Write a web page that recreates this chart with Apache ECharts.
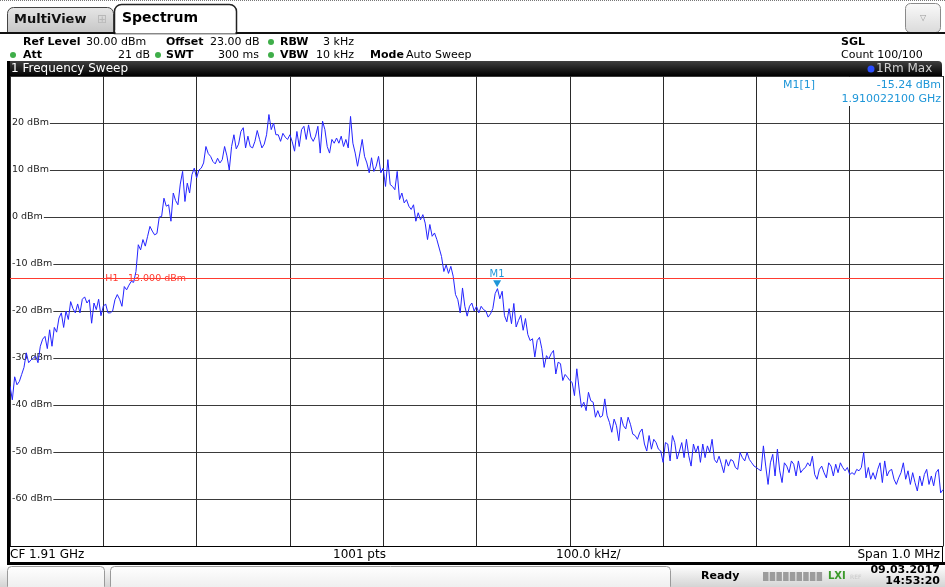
<!DOCTYPE html>
<html>
<head>
<meta charset="utf-8">
<script src="https://cdn.jsdelivr.net/npm/echarts@6/dist/echarts.min.js"></script>
<style>
  html, body { margin: 0; padding: 0; background: #fff; }
  #chart { width: 945px; height: 587px; }
</style>
</head>
<body>
<div id="chart"></div>
<script>
// frequency offset from CF (kHz)
const spanKHz = [-500, 500];

// trace 1 (max hold), dBm at 401 evenly spaced sweep points
const traceDbm = [
  -36, -38.9, -34, -35.7, -35, -33.5, -32, -28.9, -31, -30.4,
  -30, -29.6, -31, -27.5, -26, -25.4, -28, -24, -27.5, -23.5,
  -24.5, -21.5, -20.4, -23.5, -20, -21.8, -18, -19.5, -20.4, -18.5,
  -20.4, -17.5, -17, -18.3, -17.6, -22.6, -18.3, -19.7, -17.5, -21,
  -19, -18.5, -20.4, -20.4, -20, -17.6, -16.5, -17.5, -19, -14.8,
  -15.5, -14.5, -13.7, -13.9, -11.6, -5.9, -7, -4.8, -6.2, -4.1,
  -2, -3, -3.8, -3.5, 0, 0.1, 4, 2.3, 2.6, -0.9,
  5.1, 3.5, 2.6, 7, 9.7, 3.3, 7.2, 5.1, 9, 10.4,
  8.3, 10, 10.4, 11.5, 15, 13.5, 12.9, 11.8, 11.3, 12.5,
  11.5, 12.2, 15, 13, 10, 15, 17.5, 14.5, 15.5, 18.2,
  19, 14.7, 17.2, 15, 14.7, 16.1, 18.4, 16.5, 14.7, 15.5,
  17.5, 21.8, 18.6, 20, 17.5, 17.5, 16.1, 17.8, 17, 16.5,
  17.5, 16, 14, 18.2, 15, 18.6, 19.3, 16.5, 19.6, 17,
  16.1, 17.2, 19.3, 13.6, 20.4, 18.6, 15, 13.6, 16.5, 15.7,
  16.8, 15.7, 17.2, 15, 16.5, 14.7, 21.4, 15.7, 13.6, 10.8,
  13.6, 16.5, 12.9, 11.5, 9.4, 12.6, 9.7, 10.8, 12.9, 9.4,
  10.4, 6.5, 12.2, 6.9, 6.5, 5.8, 9.7, 3.7, 5.1, 3,
  3.7, 2.3, 1.6, 2.6, -0.9, 0.9, -0.6, 0.5, -1.3, -4.8,
  -1.6, -4.1, -3.4, -4.8, -6.6, -8.4, -11.6, -10.2, -12, -10.5,
  -12.6, -16.5, -17.6, -20.4, -15.1, -19, -21.1, -19, -18.3, -20,
  -19, -20.4, -19, -19.7, -20, -21.3, -20.6, -19.5, -16.3, -15.24,
  -17.4, -15.8, -21, -22.3, -19.5, -22.7, -18.4, -23.4, -22, -20.9,
  -24.1, -21.6, -25, -26.3, -25.9, -29.8, -26.3, -25.6, -28, -32,
  -29.5, -30.2, -29.1, -28.4, -33.4, -30.9, -31.2, -34.8, -33.5, -34.1,
  -34.8, -35.2, -38, -32.3, -36.6, -40.5, -39.4, -41.2, -37.3, -39.1,
  -39.4, -42.6, -41.2, -42.6, -42.3, -38.7, -42.3, -43.7, -45.8, -43,
  -44.4, -47.6, -42.6, -44.4, -45.1, -42.6, -44.1, -46.2, -46.5, -47.3,
  -45.8, -45.1, -48.3, -49.8, -46.5, -49.4, -47.3, -48, -49.4, -49.8,
  -52.2, -48, -48.3, -51.9, -46.5, -48, -51.5, -49.8, -48, -51.2,
  -47.3, -50.8, -53, -48.3, -50.1, -48.7, -52.2, -48.3, -51.2, -48.7,
  -50.1, -47.3, -51.6, -52.3, -50.9, -52.6, -54.4, -51.6, -53, -51.6,
  -51.9, -53.3, -53.7, -50.1, -51.2, -51.9, -50.1, -51.6, -52.3, -53,
  -53.3, -53.7, -54, -48.7, -53, -56.9, -52.3, -50.5, -55.1, -49.4,
  -54, -56.5, -52.3, -53, -54.4, -51.9, -52.6, -55.1, -51.9, -54.4,
  -53.7, -53.3, -52.3, -53, -50.9, -54.8, -55.8, -53.7, -53, -54.4,
  -55.5, -52.3, -53, -55.1, -52.6, -54.4, -52.3, -53.3, -54, -53.3,
  -54.8, -54.4, -54.8, -53.7, -54, -53.3, -50.1, -55.5, -53.3, -55.8,
  -54.4, -55.8, -53.7, -52.3, -56.5, -51.9, -55.1, -54, -53.7, -55.8,
  -56.9, -55.5, -54.4, -52.3, -55.8, -54, -56.9, -54.4, -56.5, -58.3,
  -55.1, -57.2, -54.8, -53.7, -56.9, -55.1, -57.2, -54.4, -53.7, -58.7,
  -58
];

const levelRange = [-70, 30];
const levelStep = 10;
const h1Level = -13;
const m1Point = [22.1, -15.24];

const headerRow1 = [
  ['Ref Level', true, 23, 'left'], ['30.00 dBm', false, 86, 'left'], ['Offset', true, 166, 'left'],
  ['23.00 dB', false, 210, 'left'], ['RBW', true, 280, 'left'], ['3 kHz', false, 354, 'right']
];
const headerRow2 = [
  ['Att', true, 23, 'left'], ['21 dB', false, 150, 'right'], ['SWT', true, 166, 'left'],
  ['300 ms', false, 259, 'right'], ['VBW', true, 280, 'left'], ['10 kHz', false, 354, 'right'],
  ['Mode', true, 370, 'left'], ['Auto Sweep', false, 406, 'left']
];
const statusItems = [['CF 1.91 GHz', 10, 'left'], ['1001 pts', 333, 'left'], ['100.0 kHz/', 556, 'left'], ['Span 1.0 MHz', 940, 'right']];

const FONT = '"DejaVu Sans", Verdana, sans-serif';
const MARK = '#1e96d8';

const chart = echarts.init(document.getElementById('chart'));

const stepKHz = (spanKHz[1] - spanKHz[0]) / (traceDbm.length - 1);
const traceData = traceDbm.map((v, i) => [spanKHz[0] + i * stepKHz, v]);

chart.setOption({
  animation: false,
  backgroundColor: '#fff',
  grid: { left: 10, top: 76, width: 933, height: 470 },
  xAxis: {
    type: 'value', min: spanKHz[0], max: spanKHz[1], interval: 100,
    axisLabel: { show: false }, axisTick: { show: false },
    axisLine: { show: true, onZero: false, lineStyle: { color: '#000', width: 1 } },
    splitLine: { show: true, lineStyle: { color: '#2a2a2a', width: 1 } }
  },
  yAxis: [
    {
      type: 'value', min: levelRange[0], max: levelRange[1], interval: levelStep,
      axisLabel: { show: false }, axisTick: { show: false }, axisLine: { show: false },
      splitLine: { show: true, lineStyle: { color: '#3a3a3a', width: 1 } }
    },
    {
      type: 'value', min: levelRange[0], max: levelRange[1], interval: levelStep,
      position: 'left', z: 1,
      axisTick: { show: false }, axisLine: { show: false }, splitLine: { show: false },
      axisLabel: {
        inside: true, margin: 1, formatter: '{value} dBm',
        fontFamily: FONT, fontSize: 9.5, color: '#222',
        backgroundColor: '#fff', padding: [1, 1, 0, 1],
        showMinLabel: false, showMaxLabel: false
      }
    }
  ],
  series: [
    {
      type: 'line', z: 1, data: [], silent: true,
      markLine: {
        silent: true, symbol: 'none', animation: false,
        lineStyle: { color: '#ff3b30', width: 1, type: 'solid' },
        label: { show: false },
        data: [{ yAxis: h1Level }]
      }
    },
    {
      name: 'Trace 1', type: 'line', z: 3, data: traceData,
      showSymbol: false, symbol: 'none', silent: true,
      lineStyle: { color: '#2424ff', width: 1 },
      markPoint: {
        silent: true, animation: false,
        symbol: 'triangle', symbolRotate: 180, symbolSize: [8, 7], symbolOffset: [0, -5],
        itemStyle: { color: MARK },
        label: { show: true, position: 'top', distance: 1, formatter: 'M1', color: MARK, fontFamily: FONT, fontSize: 10 },
        data: [{ coord: m1Point }]
      }
    }
  ]
});

const h1Pix = chart.convertToPixel({ xAxisIndex: 0, yAxisIndex: 0 }, [-400, h1Level]);

function txt(x, y, text, o) {
  o = o || {};
  return {
    type: 'text', x: x, y: y, z: o.z || 10,
    style: {
      text: text, fill: o.color || '#000',
      font: (o.bold ? 'bold ' : '') + (o.size || 11) + 'px ' + FONT,
      textAlign: o.align || 'left', textVerticalAlign: 'middle',
      backgroundColor: o.bg, padding: o.pad
    }
  };
}
function box(x, y, w, h, fill, o) {
  o = o || {};
  return {
    type: 'rect', z: o.z || 9,
    shape: { x: x, y: y, width: w, height: h, r: o.r || 0 },
    style: { fill: fill, stroke: o.stroke || null, lineWidth: o.lw || 1 }
  };
}
const grad = (a, b) => new echarts.graphic.LinearGradient(0, 0, 0, 1, [{ offset: 0, color: a }, { offset: 1, color: b }]);
const dot = (x, y, c, r) => ({ type: 'circle', z: 10, shape: { cx: x, cy: y, r: r || 3 }, style: { fill: c } });

const g = [];
// top dotted border
g.push({ type: 'line', z: 10, shape: { x1: 0, y1: 0.5, x2: 945, y2: 0.5 }, style: { stroke: '#777', lineDash: [1, 1], lineWidth: 1 } });
// tabs
g.push(box(7.5, 7.5, 106, 26, grad('#e6e6e6', '#c4c4c4'), { stroke: '#444', r: [6, 6, 0, 0] }));
g.push(txt(14, 20, 'MultiView', { bold: true, size: 13, color: '#111' }));
g.push(txt(102, 20, '\u229e', { size: 12, color: '#b8b8b8', align: 'center' }));
g.push(box(114.5, 4.5, 122, 29, '#fff', { stroke: '#222', lw: 1.5, r: [7, 7, 0, 0] }));
g.push(txt(122, 18, 'Spectrum', { bold: true, size: 14, color: '#000' }));
g.push({ type: 'line', z: 11, shape: { x1: 0, y1: 33, x2: 945, y2: 33 }, style: { stroke: '#111', lineWidth: 2 } });
g.push(box(115.5, 30, 120, 3.5, '#fff', { z: 12 }));
// dropdown button
g.push(box(905.5, 3.5, 35, 29, grad('#fafafa', '#dadada'), { stroke: '#8a8a8a', r: 5 }));
g.push(txt(923, 18, '\u25bd', { size: 8, color: '#999', align: 'center' }));
// settings rows
headerRow1.forEach(([t, b, x, a]) => g.push(txt(x, 42, t, { bold: b, align: a })));
headerRow2.forEach(([t, b, x, a]) => g.push(txt(x, 55, t, { bold: b, align: a })));
[[271, 42], [13, 55], [158, 55], [271, 55]].forEach(([x, y]) => g.push(dot(x, y, '#3fae49', 3)));
g.push(txt(841, 42, 'SGL', { bold: true }));
g.push(txt(841, 55, 'Count 100/100'));
// diagram title bar
g.push(box(8, 61, 934, 15, grad('#404040', '#000'), { r: [0, 4, 0, 0] }));
g.push(txt(11, 69, '1 Frequency Sweep', { size: 12, color: '#fff' }));
g.push(dot(871, 69, '#2a4dff', 3.5));
g.push(txt(876, 69, '1Rm Max', { size: 12, color: '#d0d0d0' }));
// left border
g.push(box(7, 61, 3, 504, '#000'));
// marker readout
g.push(box(772, 77, 171, 29, '#fff', { z: 5 }));
g.push(txt(783, 85, 'M1[1]', { color: MARK }));
g.push(txt(941, 85, '-15.24 dBm', { color: MARK, align: 'right' }));
g.push(txt(941, 99, '1.910022100 GHz', { color: MARK, align: 'right' }));
// H1 line label
g.push(txt(h1Pix[0] + 1, h1Pix[1], 'H1  -13.000 dBm', { size: 9.5, color: '#ff3b30', bg: '#fff', pad: [0, 1], z: 2 }));
// status line
g.push(box(10, 547, 933, 15, '#fff'));
g.push({ type: 'line', z: 10, shape: { x1: 942.5, y1: 546, x2: 942.5, y2: 562 }, style: { stroke: '#000', lineWidth: 1 } });
statusItems.forEach(([t, x, a]) => g.push(txt(x, 555, t, { size: 12, align: a })));
g.push(box(7, 562, 938, 3, '#000'));
// bottom strip
g.push(box(0, 565, 945, 22, grad('#ffffff', '#d4d4d4')));
g.push(box(7.5, 566.5, 97, 24, grad('#ffffff', '#ececec'), { stroke: '#9a9a9a', r: 4 }));
g.push(box(110.5, 566.5, 560, 24, grad('#ffffff', '#ececec'), { stroke: '#9a9a9a', r: 4 }));
g.push(txt(701, 576, 'Ready', { bold: true }));
for (let k = 0; k < 9; k++) g.push(box(763 + k * 6.7, 572, 5.5, 9, '#9c9c9c', { z: 10 }));
g.push(txt(828, 576, 'LXI', { bold: true, size: 10, color: '#3a9a2a' }));
g.push(txt(850, 577, 'REF', { size: 6, color: '#c8c8c8' }));
g.push(txt(940, 570, '09.03.2017', { bold: true, align: 'right' }));
g.push(txt(940, 581, '14:53:20', { bold: true, align: 'right' }));

chart.setOption({ graphic: { elements: g } });
</script>
</body>
</html>
